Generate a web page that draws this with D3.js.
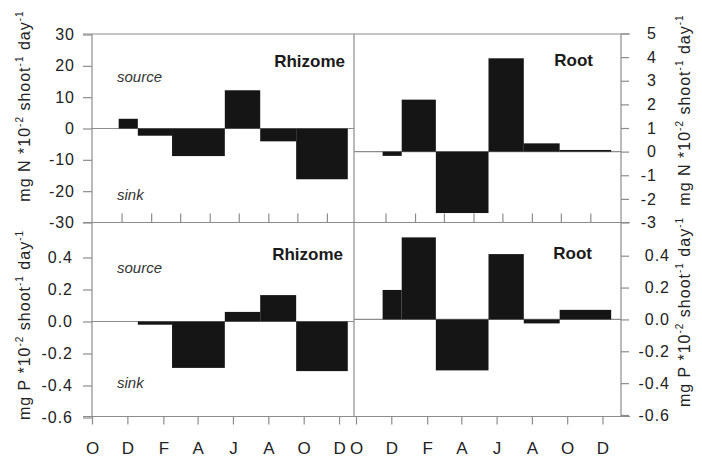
<!DOCTYPE html>
<html>
<head>
<meta charset="utf-8">
<script src="https://cdn.jsdelivr.net/npm/d3@7/dist/d3.min.js"></script>
<style>
  html, body { margin: 0; padding: 0; background: #fff; }
  svg { display: block; font-family: "Liberation Sans", Arial, Helvetica, sans-serif; }
  .frame { stroke: #8c8c8c; stroke-width: 1.2; fill: none; }
  .axis path { display: none; }
  .axis line { stroke: #8c8c8c; stroke-width: 1.2; }
  .axis text { fill: #222; font-size: 16px; letter-spacing: 1px; }
</style>
</head>
<body>
<script>
// Month labels along the bottom axes, placed on the first day of each month
// (days counted from 1 October).
const monthLabels = ["O", "D", "F", "A", "J", "A", "O", "D"];
const monthDays = [0, 61, 123, 182, 243, 304, 365, 426];

// Minor ticks along the bottom of the upper panels (days).
const upperTickDays = [51, 102, 152, 203, 253, 304, 354, 405];

// Sampling dates (days from 1 October) bounding each flux interval.
const sampleDays = [46, 79, 138, 229, 290, 352, 441];

// Net flux per interval; positive = source, negative = sink.
const rhizomeN = [3.1, -2.3, -8.8, 12.2, -4.1, -16.2];     // mg N *10^-2 shoot^-1 day^-1
const rootN = [-0.18, 2.2, -2.6, 3.95, 0.35, 0.07];
const rhizomeP = [null, -0.02, -0.29, 0.06, 0.165, -0.31]; // mg P *10^-2 shoot^-1 day^-1
const rootP = [0.185, 0.515, -0.32, 0.41, -0.025, 0.06];

// Y-axis tick values.
const nTicksLeft = [-30, -20, -10, 0, 10, 20, 30];
const nTicksRight = [-3, -2, -1, 0, 1, 2, 3, 4, 5];
const pTicks = [-0.6, -0.4, -0.2, 0.0, 0.2, 0.4];

const W = 702, H = 457;
const svg = d3.select("body").append("svg").attr("width", W).attr("height", H);

// Plain hyphen-minus for negative tick labels
const locale = d3.formatLocale({ decimal: ".", thousands: ",", grouping: [3], currency: ["", ""], minus: "-" });
const fmtN = locale.format("d");
const fmtP = locale.format(".1f");

// Horizontal layout
const xL = d3.scaleLinear().domain([0, 450]).range([92, 353]);
const xR = d3.scaleLinear().domain([0, 458]).range([356, 621]);
const leftEdge = 92, divider = 354, rightEdge = 621;

// Vertical layout
const topY = 34, midY = 222.5, botY = 416.5;
const yTL = d3.scaleLinear().domain([-30, 30]).range([midY, 34.5]);
const yTR = d3.scaleLinear().domain([-3, 5]).range([midY, 33.5]);
const yBL = d3.scaleLinear().domain([-0.6, 0.4]).range([417.5, 257.5]);
const yBR = d3.scaleLinear().domain([-0.6, 0.4]).range([415, 255.7]);

// Interval table for the bars
function intervals(values) {
  return values.map((v, i) => ({ x0: sampleDays[i], x1: sampleDays[i + 1], v }))
               .filter(d => d.v !== null);
}

const panels = [
  { x: xL, y: yTL, data: intervals(rhizomeN), name: "Rhizome", nameX: 345, nameY: 67, x0: leftEdge, x1: divider, top: topY, bottom: midY, lower: false, notes: true },
  { x: xR, y: yTR, data: intervals(rootN), name: "Root", nameX: 593, nameY: 66, x0: divider, x1: rightEdge, top: topY, bottom: midY, lower: false, notes: false },
  { x: xL, y: yBL, data: intervals(rhizomeP), name: "Rhizome", nameX: 343, nameY: 260, x0: leftEdge, x1: divider, top: midY, bottom: botY, lower: true, notes: true },
  { x: xR, y: yBR, data: intervals(rootP), name: "Root", nameX: 592, nameY: 259, x0: divider, x1: rightEdge, top: midY, bottom: botY, lower: true, notes: false }
];

// Frame: outer box, centre divider and the horizontal split
const frame = svg.append("g");
[topY, midY, botY].forEach(yy => {
  frame.append("line").attr("class", "frame")
    .attr("x1", 83).attr("x2", 630).attr("y1", yy).attr("y2", yy);
});
[leftEdge, divider, rightEdge].forEach(xx => {
  frame.append("line").attr("class", "frame")
    .attr("x1", xx).attr("x2", xx).attr("y1", topY).attr("y2", botY);
});

panels.forEach(p => {
  const g = svg.append("g");

  // zero line
  g.append("line").attr("class", "frame")
    .attr("x1", p.x0).attr("x2", p.x1)
    .attr("y1", p.y(0)).attr("y2", p.y(0));

  // bars
  g.selectAll("rect").data(p.data).join("rect")
    .attr("x", d => p.x(d.x0))
    .attr("width", d => p.x(d.x1) - p.x(d.x0))
    .attr("y", d => Math.min(p.y(d.v), p.y(0)))
    .attr("height", d => Math.abs(p.y(d.v) - p.y(0)))
    .attr("fill", "#151515");

  // panel name
  g.append("text").attr("x", p.nameX).attr("y", p.nameY)
    .attr("text-anchor", "end").attr("font-weight", "bold")
    .attr("font-size", 17).attr("fill", "#1a1a1a").text(p.name);

  // source / sink notes
  if (p.notes) {
    const src = p.lower ? p.y.invert(273) : p.y.invert(81.5);
    const snk = p.lower ? p.y.invert(388) : p.y.invert(200);
    g.append("text").attr("x", 117).attr("y", p.y(src))
      .attr("font-style", "italic").attr("font-size", 15).attr("fill", "#333").text("source");
    g.append("text").attr("x", 117).attr("y", p.y(snk))
      .attr("font-style", "italic").attr("font-size", 15).attr("fill", "#333").text("sink");
  }

  // bottom ticks
  if (p.lower) {
    const ax = svg.append("g").attr("class", "axis")
      .attr("transform", `translate(0,${p.bottom})`)
      .call(d3.axisBottom(p.x).tickValues(monthDays)
        .tickFormat((d, i) => monthLabels[i]).tickSize(8).tickPadding(17));
    ax.selectAll("text").style("font-size", "17px").style("letter-spacing", "0px");
  } else {
    svg.append("g").attr("class", "axis")
      .attr("transform", `translate(0,${p.bottom})`)
      .call(d3.axisTop(p.x).tickValues(upperTickDays).tickFormat("").tickSize(9));
  }
});

// Y axes
function leftAxis(scale, ticks, fmt, labelEnd) {
  svg.append("g").attr("class", "axis")
    .attr("transform", `translate(${leftEdge},0)`)
    .call(d3.axisLeft(scale).tickValues(ticks).tickFormat(fmt).tickSize(9).tickPadding(leftEdge - 9 - labelEnd));
}
function rightAxis(scale, ticks, fmt, labelEnd) {
  const ax = svg.append("g").attr("class", "axis")
    .attr("transform", `translate(${rightEdge},0)`)
    .call(d3.axisRight(scale).tickValues(ticks).tickFormat(fmt).tickSize(8));
  ax.selectAll("text").attr("text-anchor", "end").attr("x", labelEnd - rightEdge);
}
leftAxis(yTL, nTicksLeft, fmtN, 75);
rightAxis(yTR, nTicksRight, fmtN, 657);
leftAxis(yBL, pTicks, fmtP, 73);
rightAxis(yBR, pTicks, fmtP, 670);

// Axis titles with superscripts
function axisTitle(x, yCenter, element) {
  const t = svg.append("text")
    .attr("transform", `translate(${x},${yCenter}) rotate(-90)`)
    .attr("text-anchor", "middle").attr("font-size", 16)
    .attr("fill", "#222").style("letter-spacing", "1px");
  const parts = [
    [`mg ${element} *10`, false], ["-2", true],
    [" shoot", false], ["-1", true],
    [" day", false], ["-1", true]
  ];
  parts.forEach(([s, sup], i) => {
    const ts = t.append("tspan").text(s);
    if (sup) ts.attr("font-size", 10).attr("dy", -7);
    else if (i > 0) ts.attr("dy", 7);
  });
}
axisTitle(30, 106, "N");
axisTitle(30, 325, "P");
axisTitle(690, 110, "N");
axisTitle(690, 312, "P");
</script>
</body>
</html>
